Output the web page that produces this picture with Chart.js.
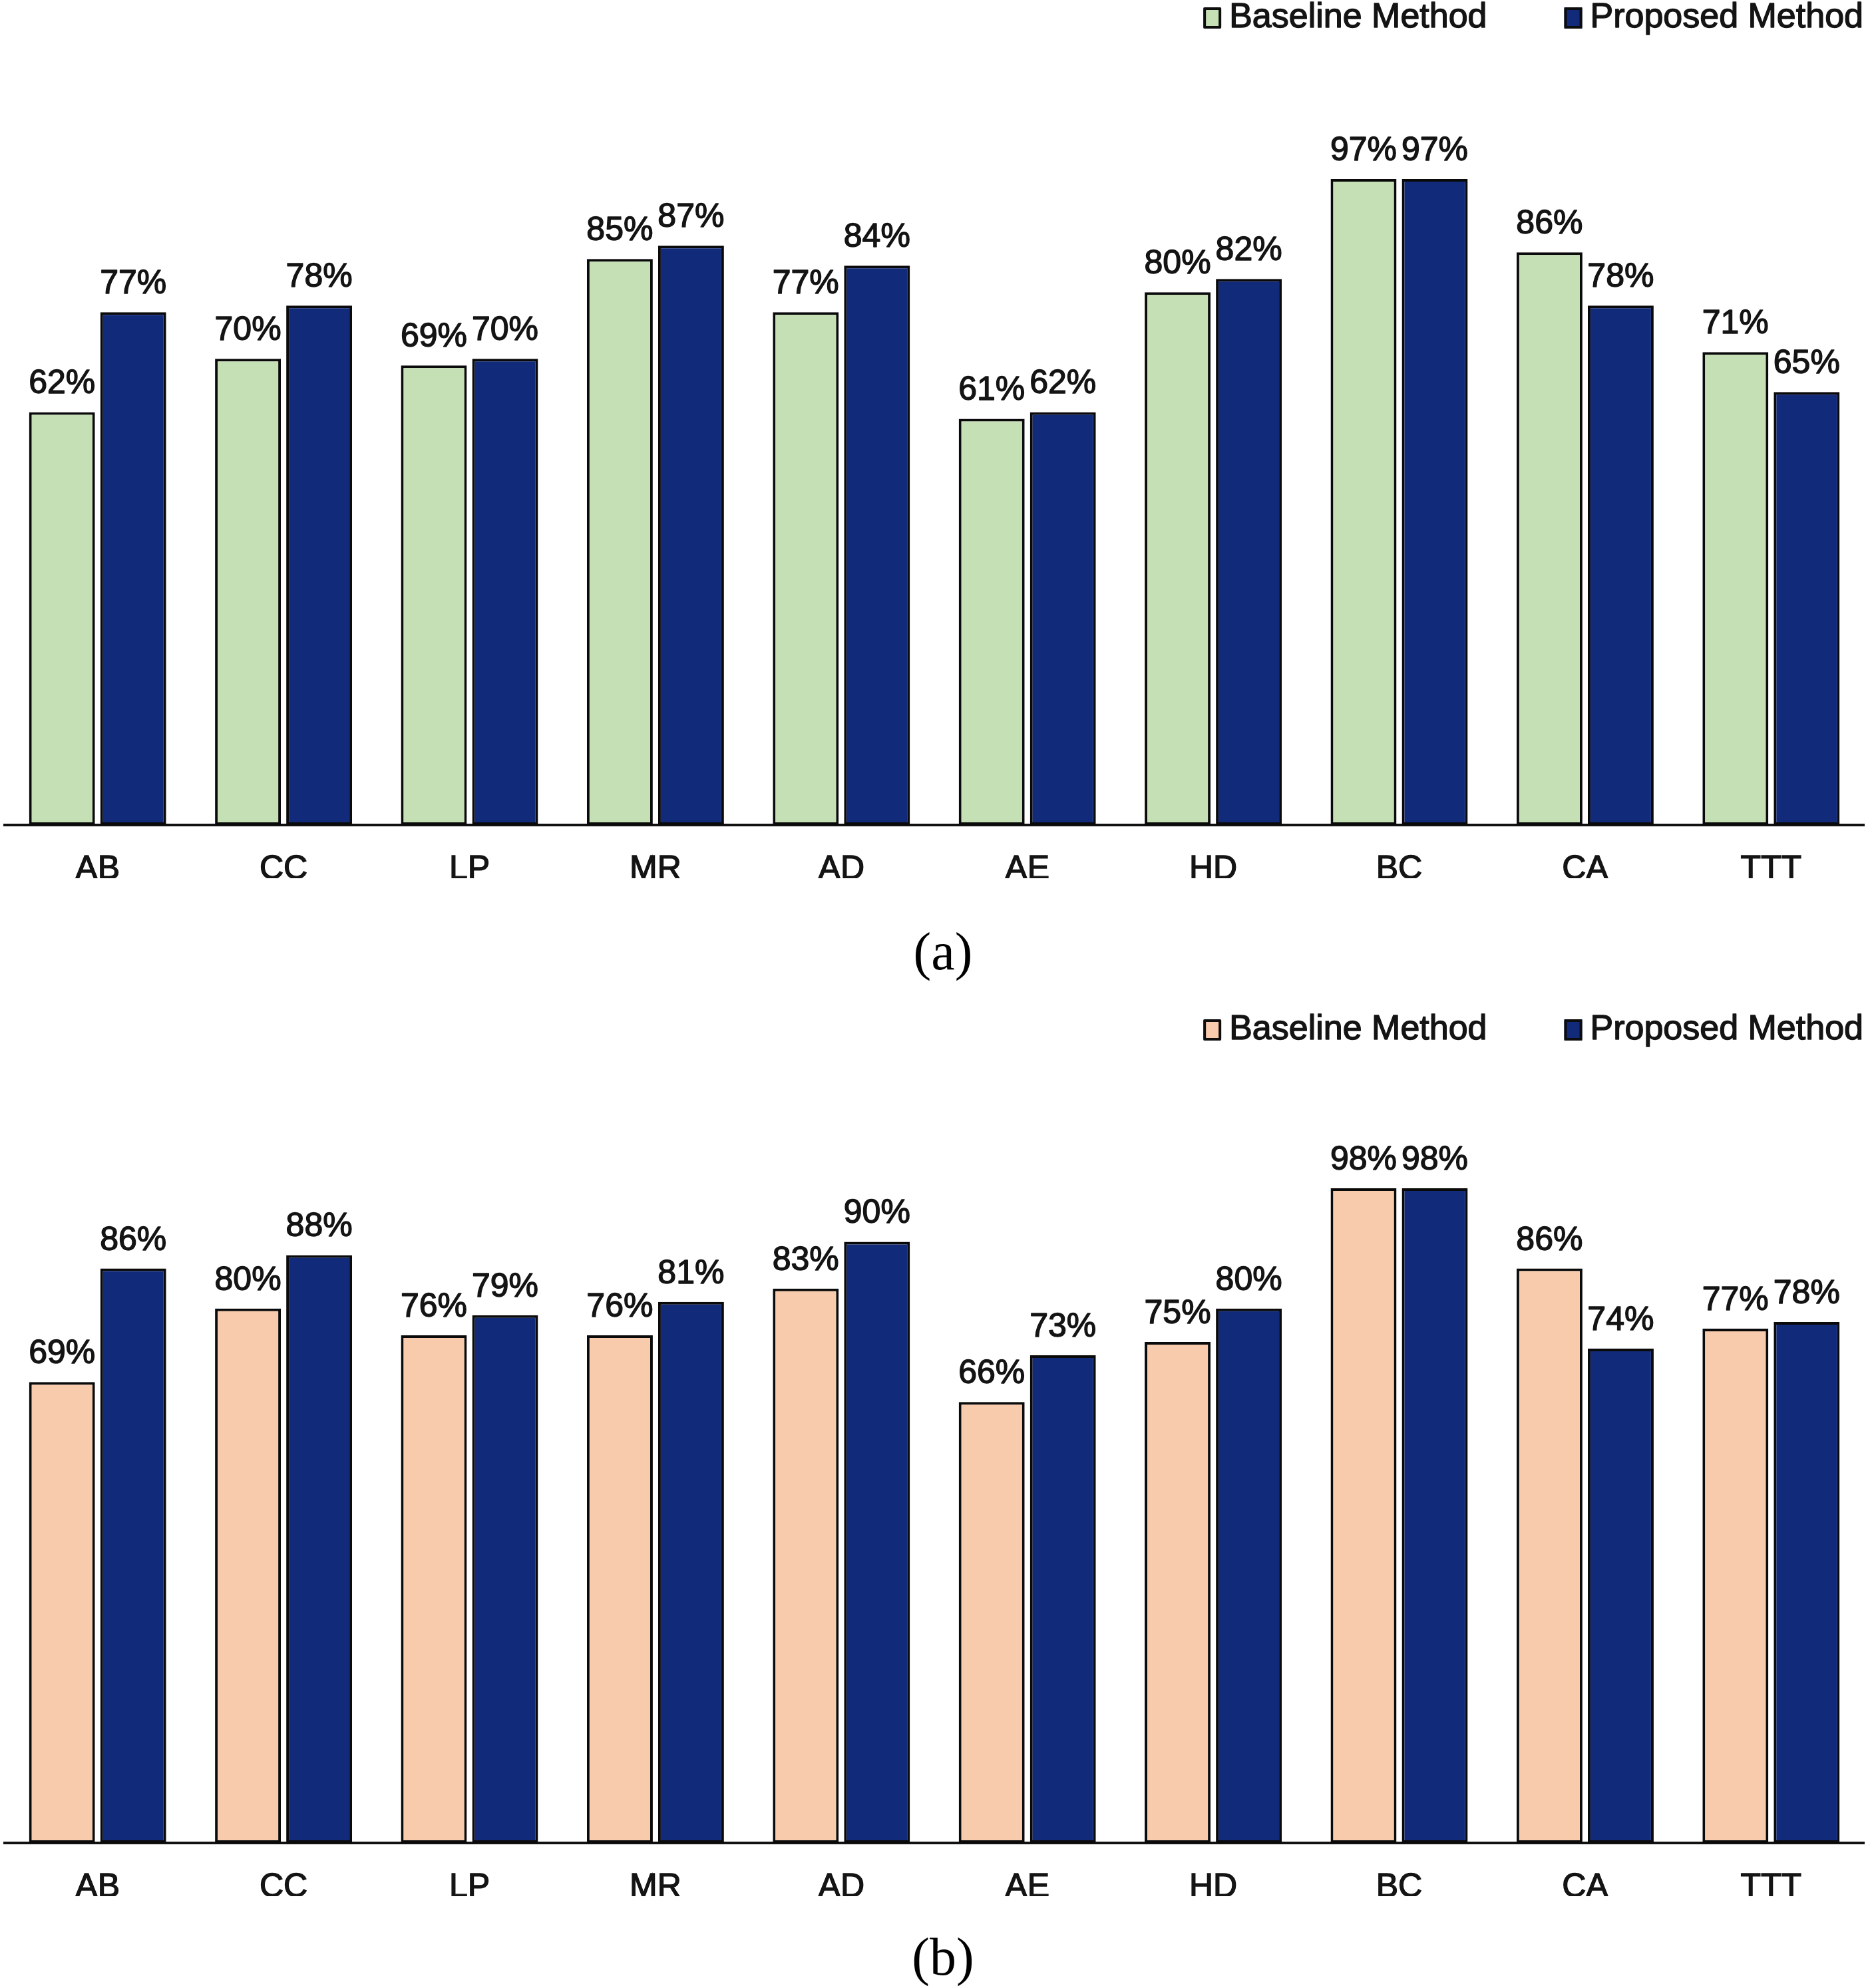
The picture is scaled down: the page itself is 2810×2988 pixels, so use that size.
<!DOCTYPE html>
<html><head><meta charset="utf-8">
<script src="https://cdn.jsdelivr.net/npm/chart.js@4.4.0/dist/chart.umd.min.js"></script>
<style>
html,body{margin:0;padding:0;background:#fff;width:2810px;height:2988px;overflow:hidden;position:relative}
canvas{position:absolute;left:0}
.cap{position:absolute;left:0;width:2834px;text-align:center;font-family:"Liberation Serif","Times New Roman",serif;font-size:80px;line-height:80px;color:#000}
</style></head><body>
<canvas id="ca" width="2810" height="1380" style="top:0;width:2810px;height:1380px"></canvas>
<div class="cap" style="top:1390px">(a)</div>
<canvas id="cb" width="2810" height="1390" style="top:1490px;width:2810px;height:1390px"></canvas>
<div class="cap" style="top:2901px">(b)</div>
<script>
const categories = ['AB','CC','LP','MR','AD','AE','HD','BC','CA','TTT'];
const seriesNames = ['Baseline Method','Proposed Method'];
const baselineA = [62,70,69,85,77,61,80,97,86,71];
const proposedA = [77,78,70,87,84,62,82,97,78,65];
const baselineB = [69,80,76,76,83,66,75,98,86,77];
const proposedB = [86,88,79,81,90,73,80,98,74,78];
const valueSuffix = '%';
const yRange = [0,100];

const FONT = "'Liberation Sans', Arial, sans-serif";
const TEXT = '#141414';

const valueLabels = {
  id:'valueLabels',
  afterDatasetsDraw(chart){
    const ctx = chart.ctx;
    ctx.save();
    ctx.font = "50px " + FONT;
    ctx.fillStyle = TEXT;
    ctx.strokeStyle = TEXT;
    ctx.lineWidth = 1.4;
    ctx.lineJoin = 'round';
    ctx.textAlign = 'center';
    ctx.textBaseline = 'alphabetic';
    chart.data.datasets.forEach((ds,di)=>{
      chart.getDatasetMeta(di).data.forEach((el,i)=>{
        const t = ds.data[i] + valueSuffix;
        ctx.fillText(t, el.x, el.y - 28);
        ctx.strokeText(t, el.x, el.y - 28);
      });
    });
    ctx.restore();
  }
};

const sideLegend = {
  id:'sideLegend',
  afterDraw(chart, args, opts){
    const ctx = chart.ctx;
    ctx.save();
    ctx.font = "52px " + FONT;
    ctx.textBaseline = 'middle';
    ctx.textAlign = 'left';
    ctx.lineJoin = 'round';
    let x = opts.right;
    const items = chart.data.datasets.slice().reverse();
    items.forEach(ds=>{
      const w = ctx.measureText(ds.label).width;
      const tx = x - w;
      ctx.fillStyle = TEXT;
      ctx.strokeStyle = TEXT;
      ctx.lineWidth = 1.4;
      ctx.fillText(ds.label, tx, opts.y);
      ctx.strokeText(ds.label, tx, opts.y);
      const bx = tx - opts.textGap - opts.boxW;
      const by = opts.y - opts.boxH/2;
      ctx.fillStyle = ds.backgroundColor;
      ctx.fillRect(bx, by, opts.boxW, opts.boxH);
      ctx.lineWidth = 4;
      ctx.strokeStyle = '#0d0d0d';
      ctx.strokeRect(bx+2, by+2, opts.boxW-4, opts.boxH-4);
      x = bx - opts.itemGap;
    });
    ctx.restore();
  }
};

function makeChart(id, base, prop, baseColor, cfg){
  const common = {borderColor:'#0a0a0a', borderWidth:4, borderSkipped:false, categoryPercentage:0.766, barPercentage:0.925};
  return new Chart(document.getElementById(id), {
    type:'bar',
    data:{
      labels:categories,
      datasets:[
        Object.assign({label:seriesNames[0], data:base, backgroundColor:baseColor}, common),
        Object.assign({label:seriesNames[1], data:prop, backgroundColor:'#122a7a'}, common)
      ]
    },
    options:{
      responsive:false, devicePixelRatio:1, animation:false,
      layout:{padding:{top:cfg.top, bottom:cfg.bottom, left:7, right:9}},
      plugins:{
        legend:{display:false}, tooltip:{enabled:false},
        sideLegend:{y:cfg.legendY, right:2800, textGap:12, boxW:27, boxH:32, itemGap:116}
      },
      scales:{
        x:{
          grid:{display:false, drawTicks:false},
          border:{display:true, color:'#111', width:4},
          ticks:{color:TEXT, textStrokeColor:TEXT, textStrokeWidth:1.4, font:{family:FONT, size:50}, padding:37, maxRotation:0, autoSkip:false},
          afterFit:s=>{ s.height = cfg.axisH; }
        },
        y:{display:false, min:yRange[0], max:yRange[1]}
      }
    },
    plugins:[valueLabels, sideLegend]
  });
}

makeChart('ca', baselineA, proposedA, '#c5e0b4', {top:239, bottom:60, axisH:80, legendY:27});
makeChart('cb', baselineB, proposedB, '#f8cbad', {top:276, bottom:30, axisH:80, legendY:58});
</script>
</body></html>
